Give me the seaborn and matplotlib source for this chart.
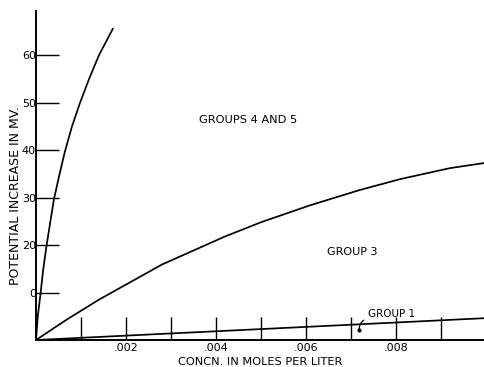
import matplotlib
matplotlib.use("Agg")
import matplotlib.pyplot as plt
import seaborn as sns
import pandas as pd

# Potential increase (mV) against concentration (moles per liter)
conc_g45 = [0.0, 0.00004, 0.0001, 0.00016, 0.00023, 0.00032, 0.0004, 0.00052,
            0.00064, 0.0008, 0.00098, 0.00118, 0.0014, 0.00171]
mv_g45 = [0.0, 5.0, 9.7, 14.8, 19.6, 25.0, 29.7, 34.8, 39.6, 45.0, 50.0,
          55.0, 60.0, 65.6]

conc_g3 = [0.0, 0.0007, 0.0014, 0.0028, 0.0042, 0.005, 0.0061, 0.0072,
           0.0081, 0.0092, 0.00998]
mv_g3 = [0.0, 4.4, 8.5, 15.9, 21.8, 24.8, 28.4, 31.6, 33.9, 36.2, 37.3]

conc_g1 = [0.0, 0.00587, 0.00998]
mv_g1 = [0.0, 2.7, 4.6]

x_ticks = [0.001, 0.002, 0.003, 0.004, 0.005, 0.006, 0.007, 0.008, 0.009]
x_tick_labels = ["", ".002", "", ".004", "", ".006", "", ".008", ""]
y_ticks = [10, 20, 30, 40, 50, 60]
y_tick_labels = ["0", "20", "30", "40", "50", "60"]

sns.set_theme(style="white")
plt.rcParams["font.family"] = ["DejaVu Sans"]

fig = plt.figure(figsize=(4.85, 3.67), dpi=100)
ax = fig.add_axes([36 / 485, 1 - 340 / 367, 1 - 36 / 485, (340 - 11) / 367])

frames = [
    pd.DataFrame({"conc": conc_g45, "mv": mv_g45, "group": "Groups 4 and 5"}),
    pd.DataFrame({"conc": conc_g3, "mv": mv_g3, "group": "Group 3"}),
    pd.DataFrame({"conc": conc_g1, "mv": mv_g1, "group": "Group 1"}),
]
for df in frames:
    sns.lineplot(data=df, x="conc", y="mv", color="black", linewidth=1.25,
                 ax=ax, legend=False, sort=False, estimator=None)

ax.set_xlim(0, 0.00998)
ax.set_ylim(0, 69.3)

ax.set_xticks(x_ticks)
ax.set_xticklabels(x_tick_labels)
ax.set_yticks(y_ticks)
ax.set_yticklabels(y_tick_labels)

ax.tick_params(axis="both", direction="in", length=16.5, width=1.0,
               color="black", labelsize=8, labelcolor="black",
               bottom=True, left=True)
ax.tick_params(axis="x", pad=2)
ax.tick_params(axis="y", pad=0)

for side in ["top", "right"]:
    ax.spines[side].set_visible(False)
for side in ["left", "bottom"]:
    ax.spines[side].set_color("black")
    ax.spines[side].set_linewidth(1.4)

ax.set_xlabel("CONCN. IN MOLES PER LITER", fontsize=8.2, color="black", labelpad=3)
ax.set_ylabel("POTENTIAL INCREASE IN MV.", fontsize=9, color="black")
ax.yaxis.set_label_coords(-0.032, 0.44)

ax.text(0.00471, 46.3, "GROUPS 4 AND 5", fontsize=8.2, color="black",
        ha="center", va="center")
ax.text(0.00702, 18.5, "GROUP 3", fontsize=8, color="black",
        ha="center", va="center")
ax.annotate("GROUP 1", xy=(0.00718, 2.1), xytext=(0.00738, 5.5),
            fontsize=7.5, color="black", ha="left", va="center",
            arrowprops=dict(arrowstyle="-", color="black", lw=0.9,
                            connectionstyle="angle3,angleA=0,angleB=90",
                            shrinkA=1, shrinkB=0))
ax.plot([0.00718], [2.1], marker="o", markersize=2, color="black")

fig.savefig("out.png", dpi=100)
